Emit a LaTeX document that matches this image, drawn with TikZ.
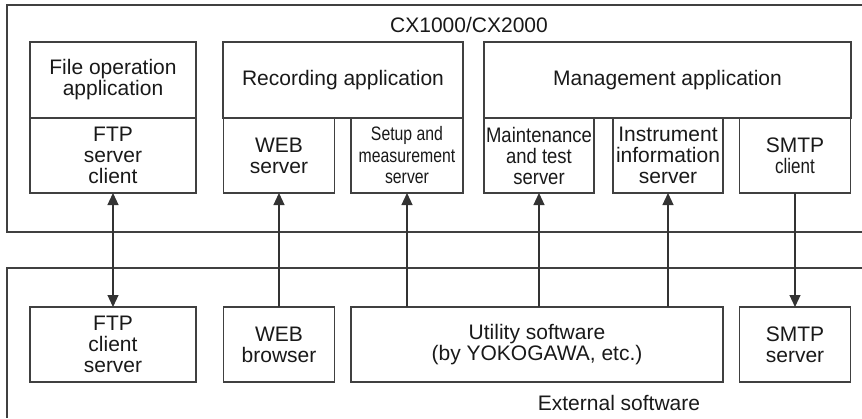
\documentclass[tikz,border=0pt]{standalone}
\usepackage{fontspec}
\setmainfont{Liberation Sans}
\newfontfamily\narrowfont[FakeStretch=0.81]{Liberation Sans}
\newfontfamily\slimfont[FakeStretch=0.88]{Liberation Sans}
\usetikzlibrary{arrows.meta}

\begin{document}
\begin{tikzpicture}[x=1pt,y=-1pt,line width=1.2pt,
		box/.style={draw=black!75,rectangle,inner sep=0pt,outer sep=0pt,align=center,text=black!90,font=\fontsize{21}{21}\selectfont},
		lbl/.style={inner sep=0pt,text=black!90,font=\fontsize{21}{21}\selectfont},
		arr/.style={draw=black!80,line width=1.2pt,>={Triangle[length=12pt,width=11pt]}}]
		\useasboundingbox (0,0) rectangle (862,418);

		% CX1000/CX2000
		\draw[black!75] (862,5) -- (7,5) -- (7,232) -- (862,232);
		\node[lbl] (cx) at (469,25) {CX1000/CX2000};
		\node[box,minimum width=166pt,minimum height=76pt] (fileapp) at (113,80) {File operation\\application};
		\node[box,minimum width=166pt,minimum height=75pt] (ftpsrv) at (113,155.5) {FTP\\server\\client};
		\node[box,minimum width=240pt,minimum height=76pt] (recapp) at (343,80) {Recording application};
		\node[box,minimum width=111pt,minimum height=75pt] (websrv) at (279,155.5) {WEB\\server};
		\node[box,minimum width=112pt,minimum height=75pt,font=\narrowfont\fontsize{19.5}{21.5}\selectfont] (setup) at (407,155.5) {Setup and\\measurement\\server};
		\node[box,minimum width=367pt,minimum height=76pt] (mgtapp) at (667.5,80) {Management application};
		\node[box,minimum width=110pt,minimum height=75pt,font=\slimfont\fontsize{21}{21}\selectfont] (maint) at (539,155.5) {Maintenance\\and test\\server};
		\node[box,minimum width=110pt,minimum height=75pt] (info) at (668,155.5) {Instrument\\information\\server};
		\node[box,minimum width=111pt,minimum height=75pt] (smtpcli) at (795,155.5) {SMTP\\{\narrowfont client}};

		% External software
		\draw[black!75] (862,268) -- (7,268) -- (7,418);
		\node[box,minimum width=166pt,minimum height=75pt] (ftpcli) at (113,344.5) {FTP\\client\\server};
		\node[box,minimum width=111pt,minimum height=75pt] (webbr) at (279,344.5) {WEB\\browser};
		\node[box,minimum width=372pt,minimum height=75pt] (util) at (537,344.5) {Utility software\\(by YOKOGAWA, etc.)};
		\node[box,minimum width=111pt,minimum height=75pt] (smtpsrv) at (795,344.5) {SMTP\\server};
		\node[lbl] (ext) at (619,403) {External software};

		% Connections
		\draw[arr,<->] (ftpsrv.south) -- (ftpcli.north);
		\draw[arr,->] (webbr.north) -- (websrv.south);
		\draw[arr,->] (util.north -| setup.south) -- (setup.south);
		\draw[arr,->] (util.north -| maint.south) -- (maint.south);
		\draw[arr,->] (util.north -| info.south) -- (info.south);
		\draw[arr,->] (smtpcli.south) -- (smtpsrv.north);
	\end{tikzpicture}
\end{document}
